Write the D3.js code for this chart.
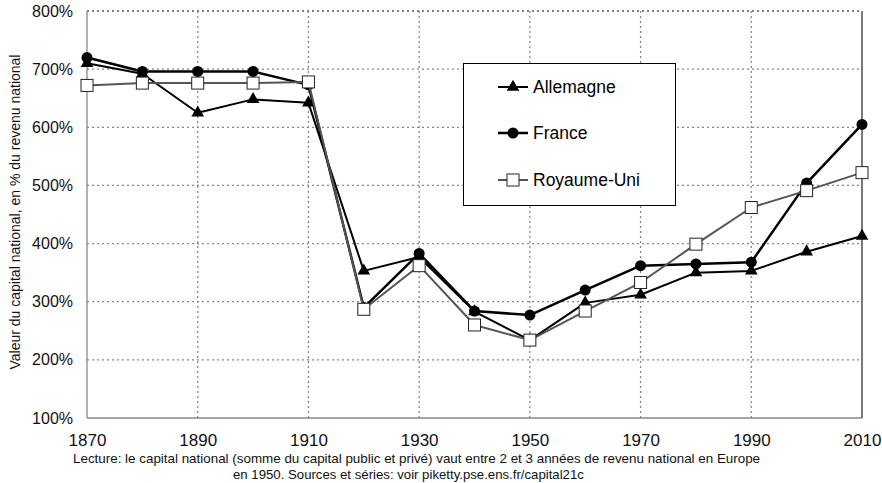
<!DOCTYPE html>
<html><head><meta charset="utf-8">
<script src="https://cdn.jsdelivr.net/npm/d3@7"></script>
<style>body{margin:0;background:#fff}svg{display:block;font-family:"Liberation Sans",Arial,sans-serif}</style>
</head><body><svg id="c" width="882" height="483"></svg>
<script>
const years = [1870,1880,1890,1900,1910,1920,1930,1940,1950,1960,1970,1980,1990,2000,2010];
const allemagne = [710,692,625,648,642,353,377,283,234,298,312,350,353,386,413];
const france = [720,696,696,696,673,290,383,284,277,320,362,365,368,504,605];
const royaumeUni = [672,676,676,676,678,287,362,260,234,284,333,399,462,491,522];
const yTicks = [100,200,300,400,500,600,700,800];
const xTicks = [1870,1890,1910,1930,1950,1970,1990,2010];
const seriesNames = ["Allemagne","France","Royaume-Uni"];
const yTitle = "Valeur du capital national, en % du revenu national";
const caption1 = "Lecture: le capital national (somme du capital public et privé) vaut entre 2 et 3 années de revenu national en Europe";
const caption2 = "en 1950. Sources et séries: voir piketty.pse.ens.fr/capital21c";

const svg = d3.select("#c");
const L=87,R=862,T=11,B=418;
const x = d3.scaleLinear().domain([1870,2010]).range([L,R]);
const y = d3.scaleLinear().domain([100,800]).range([B,T]);

// grid
const g = svg.append("g");
g.selectAll("line.h").data(yTicks.filter(d=>d>100)).join("line")
  .attr("x1",L).attr("x2",R).attr("y1",d=>y(d)).attr("y2",d=>y(d))
  .attr("stroke",d=>d===800?"#555":"#888").attr("stroke-width",1.3).attr("stroke-dasharray","2,3");
g.selectAll("line.v").data(xTicks.filter(d=>d>1870&&d<2010)).join("line")
  .attr("y1",T).attr("y2",B).attr("x1",d=>x(d)).attr("x2",d=>x(d))
  .attr("stroke","#888").attr("stroke-width",1.3).attr("stroke-dasharray","2,3");
// axes
svg.append("line").attr("x1",L).attr("x2",L).attr("y1",T).attr("y2",B).attr("stroke","#888").attr("stroke-width",1.3);
svg.append("line").attr("x1",L).attr("x2",R).attr("y1",B).attr("y2",B).attr("stroke","#888").attr("stroke-width",1.3);
svg.append("line").attr("x1",R).attr("x2",R).attr("y1",T).attr("y2",B).attr("stroke","#333").attr("stroke-width",1.3);

const yAxis = d3.axisLeft(y).tickValues(yTicks).tickFormat(d=>d+"%").tickSize(0).tickPadding(14);
const ya = svg.append("g").attr("transform",`translate(${L},0)`).call(yAxis);
ya.select(".domain").remove();
ya.selectAll("text").attr("font-size",16).attr("fill","#111").attr("font-family","Liberation Sans, Arial, sans-serif");

const xAxis = d3.axisBottom(x).tickValues(xTicks).tickFormat(d3.format("d")).tickSize(0).tickPadding(16);
const xa = svg.append("g").attr("transform",`translate(0,${B})`).call(xAxis);
xa.select(".domain").remove();
xa.selectAll("text").attr("font-size",17).attr("fill","#111").attr("font-family","Liberation Sans, Arial, sans-serif");

// series
const defs = [
  {name:seriesNames[0], vals:allemagne, color:"#000", w:2, m:"tri"},
  {name:seriesNames[1], vals:france, color:"#000", w:2.5, m:"circ"},
  {name:seriesNames[2], vals:royaumeUni, color:"#555", w:2, m:"sq"}
];
const line = d3.line().x(d=>x(d[0])).y(d=>y(d[1]));
function marker(sel, m){
  if(m==="tri") sel.append("path").attr("d",d3.symbol(d3.symbolTriangle,70)()).attr("fill","#000");
  else if(m==="circ") sel.append("circle").attr("r",5.5).attr("fill","#000");
  else sel.append("rect").attr("x",-6).attr("y",-6).attr("width",12).attr("height",12).attr("fill","#fff").attr("stroke","#222").attr("stroke-width",1);
}
defs.forEach(s=>{
  const pts = years.map((yr,i)=>[yr,s.vals[i]]);
  svg.append("path").datum(pts).attr("d",line).attr("fill","none").attr("stroke",s.color).attr("stroke-width",s.w).attr("stroke-linejoin","round");
  svg.append("g").selectAll("g").data(pts).join("g").attr("transform",d=>`translate(${x(d[0])},${y(d[1])})`).each(function(){marker(d3.select(this),s.m);});
});

// legend
const lg = svg.append("g");
lg.append("rect").attr("x",463.5).attr("y",63.5).attr("width",212).attr("height",142).attr("fill","#fff").attr("stroke","#000").attr("stroke-width",1);
const ly=[87,133,180];
defs.forEach((s,i)=>{
  const gg = lg.append("g").attr("transform",`translate(0,${ly[i]})`);
  gg.append("line").attr("x1",498).attr("x2",528).attr("stroke",s.color).attr("stroke-width",s.w);
  const mk = gg.append("g").attr("transform","translate(513,0)"); marker(mk,s.m);
  gg.append("text").attr("x",533).attr("y",6).attr("font-size",17.5).attr("fill","#000").text(s.name);
});

// y title
svg.append("text").attr("transform","translate(20,212) rotate(-90)").attr("text-anchor","middle").attr("font-size",14).attr("fill","#111").text(yTitle);
// caption
svg.append("text").attr("x",73).attr("y",463).attr("font-size",13.4).attr("fill","#111").text(caption1);
svg.append("text").attr("x",233).attr("y",479).attr("font-size",13.2).attr("fill","#111").text(caption2);
</script></body></html>
